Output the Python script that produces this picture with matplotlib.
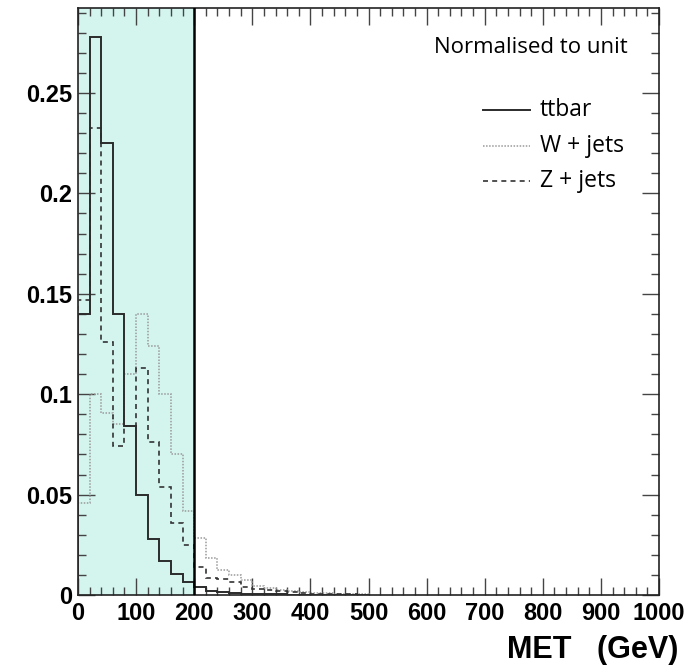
import matplotlib
matplotlib.use("Agg")
import matplotlib.pyplot as plt
from matplotlib.ticker import MultipleLocator
import numpy as np

# MET histograms, 20 GeV bins starting at 0, normalised to unit area
bin_width = 20
ttbar = [0.140, 0.278, 0.225, 0.140, 0.084, 0.050, 0.028, 0.017, 0.0105, 0.0066,
         0.0042, 0.0022, 0.0014, 0.0010, 0.0007, 0.0005, 0.0004, 0.0003, 0.0002, 0.0002,
         0.0001, 0.0001, 0.0001, 0.0001, 0.0001]
wjets = [0.046, 0.100, 0.0905, 0.085, 0.110, 0.140, 0.124, 0.100, 0.070, 0.042,
         0.0282, 0.0183, 0.0125, 0.0098, 0.0075, 0.0045, 0.0035, 0.0025, 0.0020, 0.0015,
         0.0010, 0.0008, 0.0006, 0.0004, 0.0003]
zjets = [0.147, 0.2325, 0.126, 0.074, 0.084, 0.113, 0.076, 0.054, 0.036, 0.025,
         0.0141, 0.0083, 0.0082, 0.0066, 0.0040, 0.0030, 0.0025, 0.0018, 0.0013, 0.0010,
         0.0007, 0.0005, 0.0004, 0.0003, 0.0002]
met_cut = 200
x_range = (0, 1000)
y_top = 0.2923

edges = np.arange(len(ttbar) + 1) * bin_width

fig = plt.figure(figsize=(6.97, 6.68), dpi=100)
ax = fig.add_axes([78 / 697, 1 - 595 / 668, 581 / 697, 587 / 668])

# selected region (MET < 200 GeV)
ax.axvspan(x_range[0], met_cut, color='#d4f5ee', zorder=0, lw=0)

ax.stairs(wjets, edges, color='#9a9a9a', lw=1.1, linestyle=(0, (1, 1)), zorder=2)
ax.stairs(zjets, edges, color='#333333', lw=1.2, linestyle=(0, (3, 2.5)), zorder=3)
ax.stairs(ttbar, edges, color='#2b2b2b', lw=1.4, zorder=4)

ax.axvline(met_cut, color='black', lw=1.8, zorder=5)

ax.set_xlim(*x_range)
ax.set_ylim(0, y_top)

ax.xaxis.set_major_locator(MultipleLocator(100))
ax.xaxis.set_minor_locator(MultipleLocator(20))
ax.yaxis.set_major_locator(MultipleLocator(0.05))
ax.yaxis.set_minor_locator(MultipleLocator(0.01))
ax.yaxis.set_major_formatter(lambda v, p: '%g' % round(v, 3))
ax.tick_params(which='both', direction='in', top=True, right=True, width=1, color='#444444')
ax.tick_params(which='major', length=12)
ax.tick_params(which='minor', length=6)
ax.tick_params(axis='x', pad=5)
ax.tick_params(axis='y', pad=4)
for lab in ax.get_xticklabels() + ax.get_yticklabels():
    lab.set_fontfamily('Liberation Sans')
    lab.set_fontweight('bold')
    lab.set_fontsize(17)
# ROOT puts the y "0" a little lower, touching the x "0"
ax.get_yticklabels()[0].set_verticalalignment('top')
for sp in ax.spines.values():
    sp.set_linewidth(1.2)
    sp.set_color('#222222')

fig.text(678 / 697, 1 - 650 / 668, 'MET   (GeV)', ha='right', va='center',
         family='Liberation Sans', weight='bold', fontsize=22)

ax.text(0.78, 0.932, 'Normalised to unit', transform=ax.transAxes, ha='center', va='center',
        family='Open Sans', fontsize=16)

legend_rows = [('ttbar', '#2b2b2b', '-', 1.4),
               ('W + jets', '#9a9a9a', (0, (1, 1)), 1.1),
               ('Z + jets', '#333333', (0, (3, 2.5)), 1.2)]
for i, (name, col, ls, lw) in enumerate(legend_rows):
    yy = 0.826 - i * 0.0605
    ax.plot([0.697, 0.778], [yy, yy], transform=ax.transAxes, color=col, linestyle=ls, lw=lw)
    ax.text(0.795, yy, name, transform=ax.transAxes, ha='left', va='center',
            family='Open Sans', fontsize=16.5)

fig.savefig('out.png', dpi=100)
